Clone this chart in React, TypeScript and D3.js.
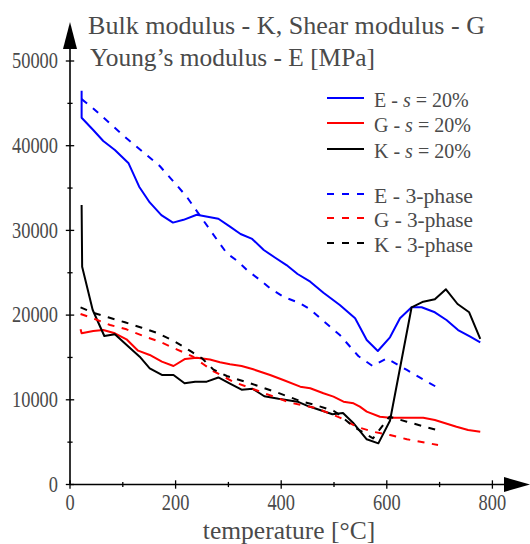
import React from "react";
import * as d3 from "d3";

// temperature [°C], modulus [MPa]
const E_S20: [number, number][] = [
  [22, 46500], [22, 43300], [44, 41850], [63, 40550], [85, 39490], [111, 37920], [131, 35160],
  [151, 33300], [173, 31800], [195, 30920], [215, 31250], [240, 31850], [281, 31370], [303, 30440],
  [323, 29580], [345, 28990], [367, 27690], [388, 26800], [410, 25910], [431, 24850], [455, 23940],
  [480, 22640], [511, 21190], [540, 19620], [562, 17060], [583, 15760], [606, 17380], [625, 19620],
  [647, 20920], [666, 20920], [691, 20330], [713, 19420], [735, 18240], [758, 17450], [777, 16790],
];
const G_S20: [number, number][] = [
  [20, 18320], [22, 17850], [44, 18120], [63, 18240], [85, 17850], [107, 17140], [129, 15800],
  [151, 15290], [174, 14500], [196, 13990], [218, 14820], [240, 14970], [265, 14750], [284, 14430],
  [303, 14190], [325, 13990], [347, 13600], [379, 12930], [404, 12340], [436, 11550], [455, 11360],
  [480, 10770], [499, 10370], [518, 9780], [537, 9590], [549, 9190], [562, 8600], [587, 8000],
  [606, 7890], [638, 7890], [669, 7890], [691, 7610], [732, 6820], [754, 6430], [777, 6230],
];
const K_S20: [number, number][] = [
  [22, 33000], [23, 25700], [43, 20600], [65, 17530], [85, 17730], [111, 16270], [132, 15090],
  [151, 13720], [174, 12930], [196, 12930], [217, 11950], [237, 12140], [259, 12140], [281, 12640],
  [303, 11920], [325, 11200], [346, 11300], [368, 10420], [395, 10120], [431, 9780], [452, 9230],
  [479, 8680], [497, 8300], [517, 8450], [536, 7300], [562, 5340], [584, 4860], [606, 7530],
  [647, 20920], [669, 21580], [691, 21870], [712, 23050], [734, 21310], [756, 20330], [777, 17180],
];
const E_3P: [number, number][] = [
  [22, 45500], [44, 44400], [107, 40870], [170, 37600], [199, 35560], [221, 33980], [252, 31230],
  [281, 28670], [297, 27300], [319, 26300], [335, 25320], [360, 24140], [379, 23160], [404, 22170],
  [436, 21390], [455, 20680], [474, 19620], [511, 17650], [546, 15170], [573, 13990], [600, 14900],
  [638, 13520], [695, 11480],
];
const G_3P: [number, number][] = [
  [20, 20130], [44, 19620], [76, 18830], [107, 18320], [139, 17530], [170, 16860], [202, 15960],
  [233, 15090], [252, 14230], [271, 13400], [309, 12140], [360, 10960], [417, 9660], [467, 9000],
  [511, 7900], [543, 6820], [574, 6230], [606, 5840], [638, 5340], [697, 4660],
];
const K_3P: [number, number][] = [
  [20, 20920], [44, 20280], [72, 19740], [104, 19150], [136, 18510], [167, 17850], [199, 16860],
  [230, 15680], [250, 14900], [271, 13600], [297, 12810], [341, 11950], [391, 10890], [436, 9860],
  [464, 9390], [499, 8710], [511, 8200], [537, 6820], [574, 5450], [605, 8000], [638, 7410],
  [695, 6430],
];

const SERIES = [
  { name: "E", kind: "s", data: E_S20, color: "#0000ff" },
  { name: "G", kind: "s", data: G_S20, color: "#ff0000" },
  { name: "K", kind: "s", data: K_S20, color: "#000000" },
  { name: "E", kind: "p", data: E_3P, color: "#0000ff" },
  { name: "G", kind: "p", data: G_3P, color: "#ff0000" },
  { name: "K", kind: "p", data: K_3P, color: "#000000" },
];

const Y_TICKS = d3.range(0, 50001, 5000);
const X_TICKS = d3.range(0, 801, 100);
const TITLE1 = "Bulk modulus - K, Shear modulus - G";
const TITLE2 = "Young\u2019s modulus - E [MPa]";
const XTITLE = "temperature [\u00B0C]";

const FONT = "'Liberation Serif', 'DejaVu Serif', serif";
const TXT = "#4a4a4a";
const TS = { fontFamily: FONT };

export default function App() {
  const x = d3.scaleLinear().domain([0, 800]).range([70, 492.4]);
  const y = d3.scaleLinear().domain([0, 50000]).range([484.5, 61]);
  const line = d3
    .line<[number, number]>()
    .x((d) => x(d[0]))
    .y((d) => y(d[1]));
  const x0 = x(0);
  const y0 = y(0);
  const legendY = [98, 123, 149, 194, 218, 243];

  return (
    <svg
      width={530}
      height={544}
      style={{ position: "absolute", left: 0, top: 0, background: "#fff" }}
    >
      <rect x={0} y={0} width={530} height={544} fill="#fff" />
      {/* axes */}
      <line x1={x0} x2={504} y1={y0} y2={y0} stroke="#000" strokeWidth={1.6} />
      <line x1={x0} x2={x0} y1={y0} y2={49} stroke="#000" strokeWidth={1.6} />
      <path d={`M504,477L530,484.5L504,492Z`} fill="#000" />
      <path d={`M63,49L${x0},22L77,49Z`} fill="#000" />
      {Y_TICKS.map((t) => {
        const major = t % 10000 === 0;
        const h = major ? 4.2 : 2.6;
        return (
          <g key={"y" + t}>
            <line x1={x0 - h} x2={x0 + h} y1={y(t)} y2={y(t)} stroke="#000" strokeWidth={1.3} />
            {major && (
              <text
                transform={`translate(58,${y(t) + 7.2}) scale(1,1.2)`}
                textAnchor="end"
                fontSize={18.4}
                fill={TXT}
                style={TS}
              >
                {t}
              </text>
            )}
          </g>
        );
      })}
      {X_TICKS.map((t) => {
        const major = t % 200 === 0;
        const h = major ? 4.2 : 2.6;
        return (
          <g key={"x" + t}>
            <line x1={x(t)} x2={x(t)} y1={y0 - h} y2={y0 + h} stroke="#000" strokeWidth={1.3} />
            {major && (
              <text
                transform={`translate(${x(t)},510) scale(1,1.28)`}
                textAnchor="middle"
                fontSize={18.4}
                fill={TXT}
                style={TS}
              >
                {t}
              </text>
            )}
          </g>
        );
      })}
      {/* series */}
      {SERIES.map((s, i) => (
        <path
          key={i}
          d={line(s.data) || ""}
          fill="none"
          stroke={s.color}
          strokeWidth={2}
          strokeDasharray={s.kind === "p" ? "7 7.5" : undefined}
          strokeLinejoin="round"
        />
      ))}
      {/* titles */}
      <text x={88} y={34} fontSize={26} fill={TXT} style={TS} textLength={397} lengthAdjust="spacingAndGlyphs">
        {TITLE1}
      </text>
      <text x={90} y={66} fontSize={26} fill={TXT} style={TS} textLength={285} lengthAdjust="spacingAndGlyphs">
        {TITLE2}
      </text>
      <text x={289} y={539} fontSize={25.5} fill={TXT} style={TS} textAnchor="middle">
        {XTITLE}
      </text>
      {/* legend */}
      {SERIES.map((s, i) => (
        <g key={"l" + i}>
          <line
            x1={327}
            x2={364}
            y1={legendY[i]}
            y2={legendY[i]}
            stroke={s.color}
            strokeWidth={2}
            strokeDasharray={s.kind === "p" ? "7 8" : undefined}
          />
          {s.kind === "s" ? (
            <text x={374} y={legendY[i] + 8.5} fontSize={20} fill={TXT} style={TS}>
              {s.name + " - "}
              <tspan fontStyle="italic">s</tspan>
              {" = 20%"}
            </text>
          ) : (
            <text x={374} y={legendY[i] + 8.5} fontSize={20} fill={TXT} style={TS} textLength={99} lengthAdjust="spacingAndGlyphs">
              {s.name + " - 3-phase"}
            </text>
          )}
        </g>
      ))}
    </svg>
  );
}
